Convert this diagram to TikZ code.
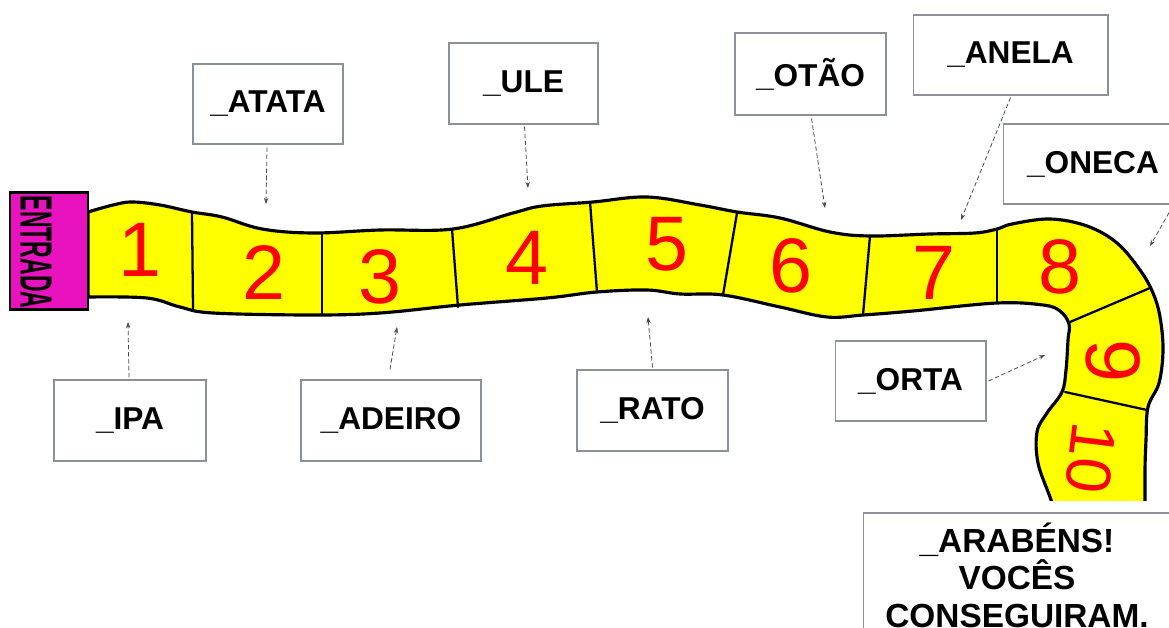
\documentclass[tikz,border=0pt]{standalone}
\usepackage{fontspec}
\setmainfont{Liberation Sans}
\usetikzlibrary{arrows.meta}
\definecolor{snakey}{RGB}{255,255,0}
\definecolor{entr}{RGB}{232,18,190}
\definecolor{numred}{RGB}{255,0,0}
\definecolor{boxgray}{RGB}{140,145,152}
\definecolor{conngray}{RGB}{70,75,85}
\tikzset{
  lbl/.style={draw=boxgray, line width=0.6pt, fill=white, inner sep=0pt,
    minimum height=1.6cm, font=\fontsize{18}{20}\selectfont\bfseries},
  conn/.style={draw=conngray, line width=0.45pt, dash pattern=on 2.5pt off 1.5pt,
    -{Stealth[length=3.5pt,width=2.5pt]}},
  num/.style={text=numred, font=\fontsize{44}{44}\selectfont, inner sep=0pt},
  divider/.style={draw=black, line width=1.3pt, line cap=round}
}
\begin{document}
\begin{tikzpicture}[x=0.02cm,y=-0.02cm]
\useasboundingbox (0,0) rectangle (1169,628);
% snake body
\begin{scope}
\clip (0,0) rectangle (1169,500);
\filldraw[fill=snakey, draw=black, line width=1.8pt, line join=round]
  plot[smooth,tension=0.6] coordinates {(88,212) (113,205) (132,202) (160,205) (192,212) (222,217) (262,229) (313,233) (380,230) (453,229) (513,213) (542,206) (593,202) (647,197) (700,205) (737,212) (780,218) (830,232) (870,236) (930,234) (975,233) (997,229) (1012,224) (1050,219) (1087,226) (1117,243) (1140,270) (1153,293) (1160,317) (1163,350) (1159,383) (1148,407) (1146,440) (1145,470) (1145,520)}
  -- plot[smooth,tension=0.6] coordinates {(1058,520) (1050,497) (1038,463) (1037,432) (1047,413) (1062,392) (1066,370) (1068,340) (1069,324) (1060,311) (1043,305) (997,303) (913,311) (863,315) (827,317) (780,307) (723,295) (680,294) (647,290) (597,292) (547,298) (460,305) (380,313) (313,315) (213,313) (180,307) (147,298) (88,297)}
  -- cycle;
\end{scope}
% dividers
\draw[divider] (192,212) -- (193,309);
\draw[divider] (322,233) -- (322,315);
\draw[divider] (452,229) -- (458,307);
\draw[divider] (590,202) -- (597,292);
\draw[divider] (737,213) -- (723,295);
\draw[divider] (870,236) -- (863,315);
\draw[divider] (997,230) -- (997,303);
\draw[divider] (1070,322) -- (1150,288);
\draw[divider] (1065,392) -- (1147,410);
% entrada
\node[draw=black, fill=entr, line width=1.5pt, minimum width=1.56cm, minimum height=2.34cm, inner sep=0pt] (entrada) at (49,251) {};
\node[rotate=-90, inner sep=0pt] (entradatxt) at (36,252) {\resizebox{2.25cm}{0.62cm}{\bfseries ENTRADA}};
% numbers
\node[num] (n1) at (140,250) {1};
\node[num] (n2) at (264,273) {2};
\node[num] (n3) at (380,277) {3};
\node[num] (n4) at (527,258) {4};
\node[num] (n5) at (667,244) {5};
\node[num] (n6) at (791,266) {6};
\node[num] (n7) at (934,273) {7};
\node[num] (n8) at (1060,267) {8};
\node[num, rotate=-90] (n9) at (1113,361) {9};
\node[num, rotate=-97, font=\fontsize{36}{36}\selectfont] (n10) at (1091,458) {10};
% label boxes
\node[lbl, minimum width=3.0cm] (atata) at (268,104) {\_ATATA};
\node[lbl, minimum width=2.98cm, minimum height=1.62cm] (ule) at (523.5,83.5) {\_ULE};
\node[lbl, minimum width=3.02cm, minimum height=1.64cm] (otao) at (810.5,74) {\_OTÃO};
\node[lbl, minimum width=3.9cm] (anela) at (1010.5,55) {\_ANELA};
\node[lbl, minimum width=3.6cm] (oneca) at (1093,164) {\_ONECA};
\node[lbl, minimum width=3.04cm, minimum height=1.62cm] (ipa) at (130,420.5) {\_IPA};
\node[lbl, minimum width=3.6cm, minimum height=1.62cm] (adeiro) at (391,420.5) {\_ADEIRO};
\node[lbl, minimum width=3.02cm, minimum height=1.62cm] (rato) at (652.5,410.5) {\_RATO};
\node[lbl, minimum width=3.02cm] (orta) at (910.5,381) {\_ORTA};
\node[draw=boxgray, line width=0.6pt, fill=white, inner sep=0pt, minimum width=6.16cm, minimum height=2.48cm,
  align=center, font=\fontsize{19}{21.3}\selectfont\bfseries] (parab) at (1017,575)
  {\_ARABÉNS!\\ VOCÊS\\ CONSEGUIRAM.};
% connector ends
\coordinate (e1) at (266,204);
\coordinate (e2) at (528,188);
\coordinate (e3) at (825,208);
\coordinate (e4) at (961,220);
\coordinate (e5) at (1150,246);
\coordinate (e6) at (128,322);
\coordinate (e7) at (397,327);
\coordinate (e8) at (648,317);
\coordinate (e9) at (1045,355);
% connectors
\draw[conn] (atata.south) ++(-1,3) -- (e1);
\draw[conn] (ule.south) ++(1,2) -- (e2);
\draw[conn] (otao.south) ++(1,3) -- (e3);
\draw[conn] (anela.south) ++(0,2) -- (e4);
\draw[conn] (oneca.south east) ++(-11,2) -- (e5);
\draw[conn] (ipa.north) ++(-1,-2) -- (e6);
\draw[conn] (adeiro.north) ++(-1,-10) -- (e7);
\draw[conn] (rato.north) ++(0,-2) -- (e8);
\draw[conn] (orta.east) ++(2,0) -- (e9);
\end{tikzpicture}
\end{document}
